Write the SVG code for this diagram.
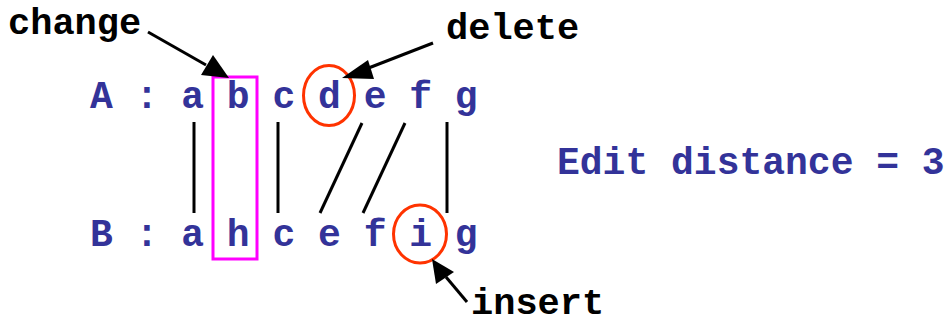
<svg xmlns="http://www.w3.org/2000/svg" width="944" height="325" viewBox="0 0 944 325">
<style>
.seq{font-family:"Liberation Mono","Courier New",monospace;font-weight:bold;font-size:38px;fill:#333399;white-space:pre}
.lbl{font-family:"Liberation Mono","Courier New",monospace;font-weight:bold;font-size:37px;fill:#000;white-space:pre}
.ln{stroke:#000;stroke-width:3;fill:none}
</style>
<rect width="944" height="325" fill="#fff"/>
<g id="seqA"><text class="seq" x="90" y="108">A : a b c d e f g</text></g>
<g id="seqB"><text class="seq" x="90" y="246">B : a h c e f i g</text></g>
<g id="result"><text class="seq" x="557" y="174">Edit distance = 3</text></g>
<g id="change"><text class="lbl" x="8" y="34">change</text><rect x="213" y="77" width="44" height="182" fill="none" stroke="#ff00ff" stroke-width="3"/></g>
<g id="delete"><text class="lbl" x="446" y="39">delete</text><ellipse cx="329" cy="95.5" rx="25.5" ry="30" fill="none" stroke="#ff3300" stroke-width="3"/></g>
<g id="insert"><text class="lbl" x="471" y="314">insert</text><ellipse cx="420" cy="234" rx="26.5" ry="29" fill="none" stroke="#ff3300" stroke-width="3"/></g>
<g id="connectors">
<line class="ln" x1="194" y1="122" x2="194" y2="213"/>
<line class="ln" x1="278" y1="122" x2="278" y2="213"/>
<line class="ln" x1="362" y1="123" x2="320" y2="213"/>
<line class="ln" x1="405" y1="123" x2="363" y2="213"/>
<line class="ln" x1="447" y1="122" x2="447" y2="213"/>
<path d="M148,32 L206,65" class="ln"/>
<path d="M213,55 L229,78 L201,75 z" fill="#000"/>
<path d="M433,43 L366,69" class="ln"/>
<path d="M368,60 L342,78 L374,79 z" fill="#000"/>
<path d="M467,302 L446,277" class="ln"/>
<path d="M436,284 L432,259 L454,272 z" fill="#000"/>
</g>
</svg>
